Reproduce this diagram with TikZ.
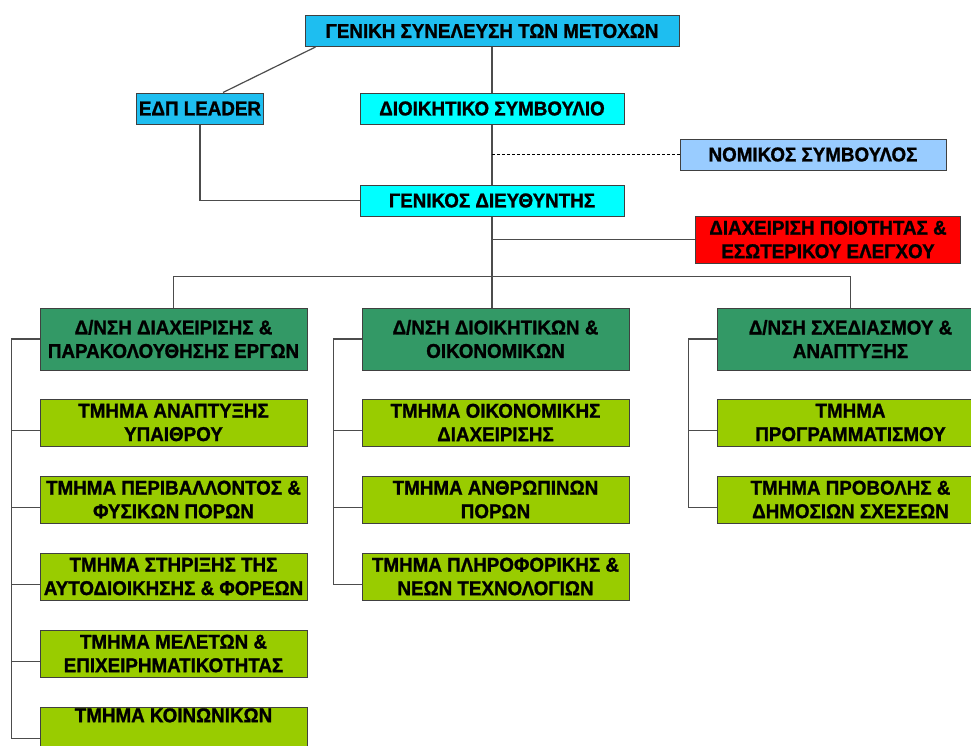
\documentclass[tikz,border=0pt]{standalone}
\usepackage{fontspec}
\setmainfont{Liberation Sans}[FakeStretch=0.94, BoldFont={Liberation Sans Bold}, BoldFeatures={FakeBold=1.2}]
\usepackage{tikz}
\usetikzlibrary{shapes, arrows, positioning}

\definecolor{assemblyBlue}{RGB}{30,190,240}
\definecolor{boardCyan}{RGB}{0,255,255}
\definecolor{legalBlue}{RGB}{153,204,255}
\definecolor{qualityRed}{RGB}{255,0,0}
\definecolor{dirGreen}{RGB}{51,153,102}
\definecolor{deptGreen}{RGB}{153,204,0}

\begin{document}
\begin{tikzpicture}[x=1pt, y=-1pt, line width=1.2pt, draw=black!70,
    unit/.style={draw=black!75, line width=1pt, align=center, inner sep=0pt,
      font=\fontsize{20}{23.5}\selectfont\bfseries, minimum height=31pt},
    dir/.style={unit, fill=dirGreen, minimum width=267pt, minimum height=62pt},
    dept/.style={unit, fill=deptGreen, minimum width=267pt, minimum height=47pt}]
    \useasboundingbox (0,0) rectangle (971,745);
    \clip (0,0) rectangle (971,745);
    % top of the chart
    \node [unit, fill=assemblyBlue, minimum width=374pt] (Assembly) at (492, 31) {ΓΕΝΙΚΗ ΣΥΝΕΛΕΥΣΗ ΤΩΝ ΜΕΤΟΧΩΝ};
    \node [unit, fill=assemblyBlue, minimum width=127pt] (Leader) at (200, 108.5) {ΕΔΠ LEADER};
    \node [unit, fill=boardCyan, minimum width=264pt] (Board) at (492, 108.5) {ΔΙΟΙΚΗΤΙΚΟ ΣΥΜΒΟΥΛΙΟ};
    \node [unit, fill=legalBlue, minimum width=266pt] (Legal) at (813, 154.5) {ΝΟΜΙΚΟΣ ΣΥΜΒΟΥΛΟΣ};
    \node [unit, fill=boardCyan, minimum width=264pt] (Director) at (492, 200.5) {ΓΕΝΙΚΟΣ ΔΙΕΥΘΥΝΤΗΣ};
    \node [unit, fill=qualityRed, minimum width=265pt, minimum height=47pt] (Quality) at (828, 239.5) {ΔΙΑΧΕΙΡΙΣΗ ΠΟΙΟΤΗΤΑΣ \&\\ ΕΣΩΤΕΡΙΚΟΥ ΕΛΕΓΧΟΥ};

    % directorates
    \node [dir] (DirProjects) at (173.5, 339) {Δ/ΝΣΗ ΔΙΑΧΕΙΡΙΣΗΣ \&\\ ΠΑΡΑΚΟΛΟΥΘΗΣΗΣ ΕΡΓΩΝ};
    \node [dir] (DirFinance) at (495.5, 339) {Δ/ΝΣΗ ΔΙΟΙΚΗΤΙΚΩΝ \&\\ ΟΙΚΟΝΟΜΙΚΩΝ};
    \node [dir] (DirPlanning) at (850.5, 339) {Δ/ΝΣΗ ΣΧΕΔΙΑΣΜΟΥ \&\\ ΑΝΑΠΤΥΞΗΣ};

    % departments
    \node [dept] (Rural) at (173.5, 422.5) {ΤΜΗΜΑ ΑΝΑΠΤΥΞΗΣ\\ ΥΠΑΙΘΡΟΥ};
    \node [dept] (Environment) at (173.5, 499.5) {ΤΜΗΜΑ ΠΕΡΙΒΑΛΛΟΝΤΟΣ \&\\ ΦΥΣΙΚΩΝ ΠΟΡΩΝ};
    \node [dept] (Local) at (173.5, 576.5) {ΤΜΗΜΑ ΣΤΗΡΙΞΗΣ ΤΗΣ\\ ΑΥΤΟΔΙΟΙΚΗΣΗΣ \& ΦΟΡΕΩΝ};
    \node [dept] (Studies) at (173.5, 653.5) {ΤΜΗΜΑ ΜΕΛΕΤΩΝ \&\\ ΕΠΙΧΕΙΡΗΜΑΤΙΚΟΤΗΤΑΣ};
    \node [dept] (Social) at (173.5, 730.5) {ΤΜΗΜΑ ΚΟΙΝΩΝΙΚΩΝ\\ \strut};
    \node [dept] (Accounts) at (495.5, 422.5) {ΤΜΗΜΑ ΟΙΚΟΝΟΜΙΚΗΣ\\ ΔΙΑΧΕΙΡΙΣΗΣ};
    \node [dept] (Staff) at (495.5, 499.5) {ΤΜΗΜΑ ΑΝΘΡΩΠΙΝΩΝ\\ ΠΟΡΩΝ};
    \node [dept] (Tech) at (495.5, 576.5) {ΤΜΗΜΑ ΠΛΗΡΟΦΟΡΙΚΗΣ \&\\ ΝΕΩΝ ΤΕΧΝΟΛΟΓΙΩΝ};
    \node [dept] (Programming) at (850.5, 422.5) {ΤΜΗΜΑ\\ ΠΡΟΓΡΑΜΜΑΤΙΣΜΟΥ};
    \node [dept] (Publicity) at (850.5, 499.5) {ΤΜΗΜΑ ΠΡΟΒΟΛΗΣ \&\\ ΔΗΜΟΣΙΩΝ ΣΧΕΣΕΩΝ};

    % connectors
    \draw (Assembly.south) -- (Board.north);
    \draw ([xshift=11pt]Assembly.south west) -- ([xshift=23pt]Leader.north);
    \draw (Board.south) -- (Director.north);
    \draw [black, densely dashed] (Board.south |- Legal.west) -- (Legal.west);
    \draw (Leader.south) |- (Director.west);
    \draw (Director.south) -- (DirFinance.north -| Director.south);
    \draw (Quality.west) -- (Quality.west -| Director.south);
    \draw (DirProjects.north) -- ++(0,-31) -| (DirPlanning.north);

    \draw (DirProjects.west) -- ++(-28,0) |- ([yshift=-8pt]Social.west);
    \foreach \n in {Rural, Environment, Local, Studies}
        \draw ([yshift=-8pt]\n.west) -- ++(-28,0);
    \draw (DirFinance.west) -- ++(-28,0) |- ([yshift=-8pt]Tech.west);
    \foreach \n in {Accounts, Staff}
        \draw ([yshift=-8pt]\n.west) -- ++(-28,0);
    \draw (DirPlanning.west) -- ++(-28,0) |- ([yshift=-8pt]Publicity.west);
    \draw ([yshift=-8pt]Programming.west) -- ++(-28,0);
\end{tikzpicture}
\end{document}
